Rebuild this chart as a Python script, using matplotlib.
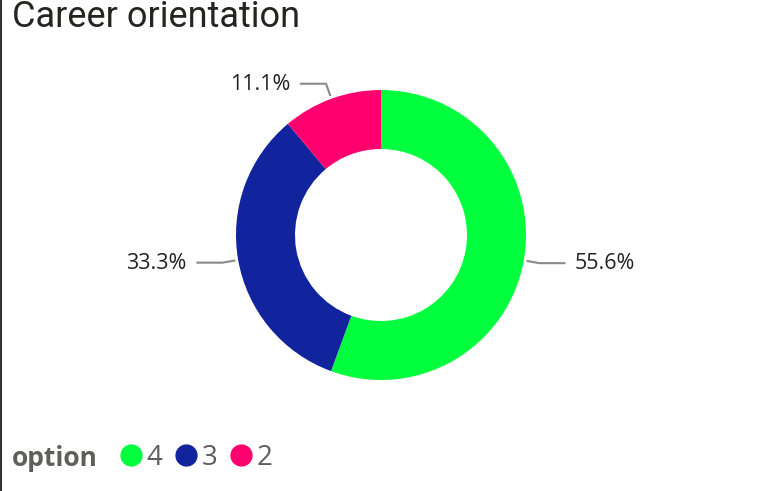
import numpy as np
import matplotlib
matplotlib.use("Agg")
import matplotlib.pyplot as plt
from matplotlib.lines import Line2D

categories = ["4", "3", "2"]
values = [55.6, 33.3, 11.1]
colors = ["#00FF3C", "#12239E", "#FF006E"]
title = "Career orientation"
legend_title = "option"

W, H = 757, 491
fig = plt.figure(figsize=(W / 100, H / 100), dpi=100)
fig.patch.set_facecolor("white")

# pie axes: center (381,235) px, radius 145 px
cx, cy, R = 381, 235, 145
half = 200
ax = fig.add_axes([(cx - half) / W, (H - cy - half) / H, 2 * half / W, 2 * half / H])

wedges, _ = ax.pie(values, colors=colors, startangle=90, counterclock=False,
                   radius=1, wedgeprops=dict(width=(145 - 86) / 145, linewidth=0))
ax.set_xlim(-half / R, half / R)
ax.set_ylim(-half / R, half / R)
ax.axis("off")

label_font = "Open Sans"
for w, v in zip(wedges, values):
    mid = np.deg2rad((w.theta1 + w.theta2) / 2)
    c, s = np.cos(mid), np.sin(mid)
    p0 = (1.02 * c, 1.02 * s)
    p1 = (1.11 * c, 1.11 * s)
    sign = 1 if c >= 0 else -1
    p2 = (p1[0] + sign * 0.18, p1[1])
    ax.plot([p0[0], p1[0], p2[0]], [p0[1], p1[1], p2[1]], color="#8a8a8a", lw=1.5,
            solid_capstyle="butt", clip_on=False)
    ax.text(p2[0] + sign * 0.065, p2[1] - 0.005, f"{v:.1f}%", ha="left" if sign > 0 else "right",
            va="center", fontsize=15.5, family=label_font, color="#222222")

fig.text(12 / W, 1 - 17 / H, title, fontsize=26, family="Roboto", color="#252423",
         ha="left", va="center")

# legend
fig.text(12 / W, 1 - 459 / H, legend_title, fontsize=19, family="Open Sans",
         fontweight="bold", color="#605E5C", ha="left", va="center")
handles = [Line2D([], [], marker="o", linestyle="none", markersize=15,
                  markerfacecolor=col, markeredgecolor=col) for col in colors]
leg = fig.legend(handles, categories, loc="center left",
                 bbox_to_anchor=(120 / W, 1 - 458 / H), ncol=3, frameon=False,
                 handlelength=0.76, handletextpad=0.2, columnspacing=0.45,
                 prop=dict(family="Open Sans", size=20), labelcolor="#605E5C",
                 borderpad=0, borderaxespad=0)

# left border line
fig.add_artist(Line2D([0.5 / W, 0.5 / W], [0, 1], color="#333333", lw=1.5,
                      transform=fig.transFigure))

fig.savefig("out.png", dpi=100, facecolor="white")
